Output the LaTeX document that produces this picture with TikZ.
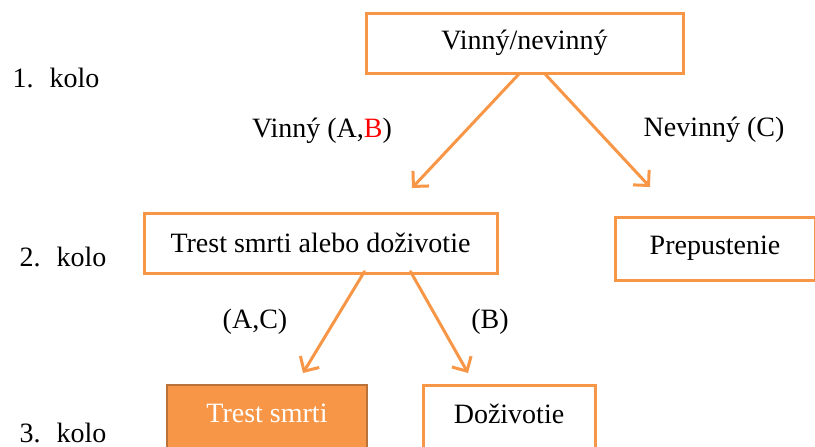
\documentclass[tikz,border=0pt]{standalone}
\usepackage{fontspec}
\setmainfont{Liberation Serif}
\usetikzlibrary{arrows.meta}
\definecolor{accent}{HTML}{F79646}
\definecolor{accentdark}{HTML}{B8723A}
\definecolor{redB}{HTML}{FF0000}
\begin{document}
\begin{tikzpicture}[x=1pt,y=-1pt,
  every node/.style={font=\fontsize{28}{32}\selectfont, inner sep=0pt},
  box/.style={draw=accent, line width=3pt, fill=white},
  filledbox/.style={draw=accentdark, line width=2pt, fill=accent, text=white},
  link/.style={draw=accent, line width=3pt, line cap=round,
    -{Straight Barb[length=11pt,width=22pt,line width=3pt]}}]
  \useasboundingbox (0,0) rectangle (815,447);
  \clip (0,0) rectangle (815,447);

  % decision boxes
  \node[box, minimum width=317pt, minimum height=60pt] (root) at (524.5,43) {Vinný/nevinný};
  \node[box, minimum width=353pt, minimum height=60pt] (life) at (320.5,243) {Trest smrti alebo doživotie};
  \node[box, minimum width=200pt, minimum height=63pt] (free) at (715,248.5) {Prepustenie};
  \node[filledbox, minimum width=200pt, minimum height=70pt] (death) at (267,420) {\raisebox{13pt}{Trest smrti}};
  \node[box, minimum width=172pt, minimum height=70pt] (lifeonly) at (509,420) {\raisebox{13pt}{Doživotie}};

  % rounds
  \node (r1) at (56,78) {1.\hspace{16pt}kolo};
  \node (r2) at (63,257) {2.\hspace{16pt}kolo};
  \node (r3) at (63,433) {3.\hspace{16pt}kolo};

  % branch labels
  \node (lA) at (322,131) {Vinný (A,\textcolor{redB}{B})};
  \node (lC) at (714,130) {Nevinný (C)};
  \node (lAC) at (255,322) {(A,C)};
  \node (lB) at (490,322) {(B)};

  % connectors
  \coordinate (e1) at (412,188);
  \coordinate (e2) at (650,187);
  \coordinate (e3) at (303,373);
  \coordinate (e4) at (468,373);
  \draw[link] ([xshift=-6pt,yshift=0pt]root.south) -- (e1);
  \draw[link] ([xshift=21pt,yshift=0pt]root.south) -- (e2);
  \draw[link] ([xshift=44pt,yshift=3pt]life.south) -- (e3);
  \draw[link] ([xshift=90pt,yshift=3pt]life.south) -- (e4);
\end{tikzpicture}
\end{document}
